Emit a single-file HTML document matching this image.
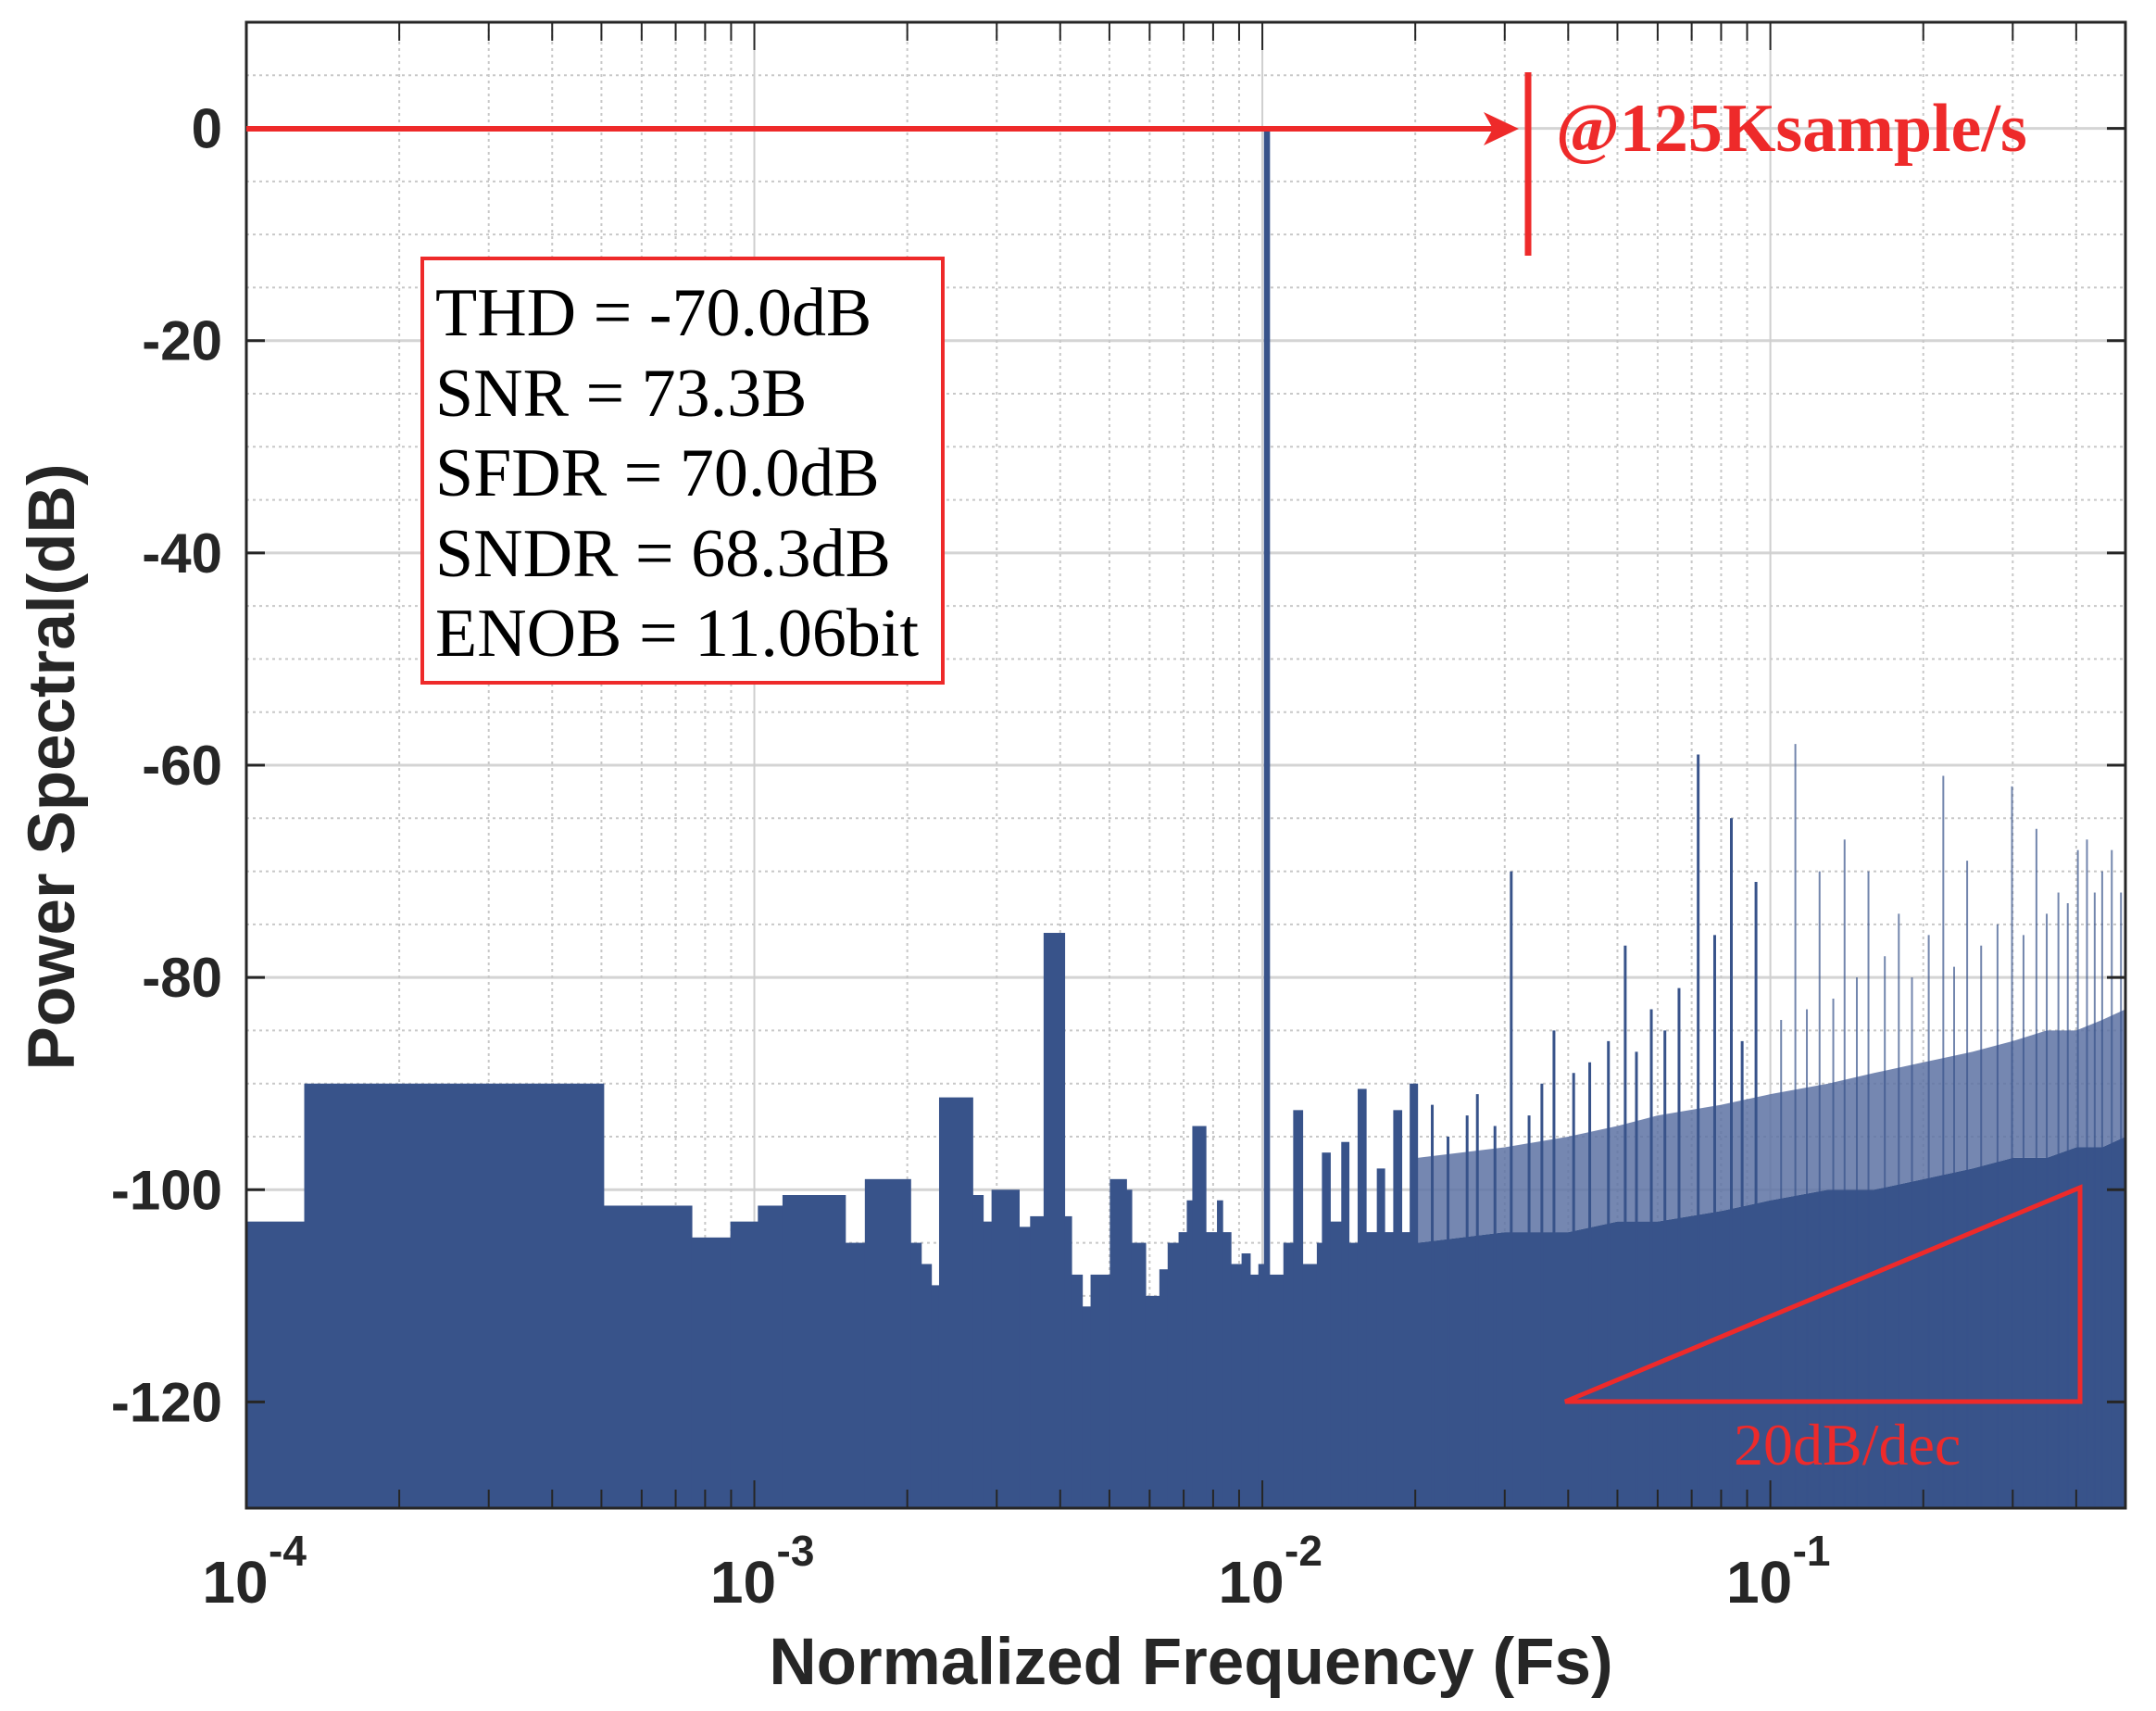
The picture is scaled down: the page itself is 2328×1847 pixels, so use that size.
<!DOCTYPE html>
<html><head><meta charset="utf-8"><style>
html,body{margin:0;padding:0;background:#fff;}
svg{display:block;}
</style></head><body>
<svg id="chart" width="2328" height="1847" viewBox="0 0 2328 1847" xmlns="http://www.w3.org/2000/svg">
<g id="grid"></g>
<g id="marks"></g>
<g id="axes"></g>
<g>
  <line x1="266" y1="139" x2="1612" y2="139" stroke="#ee2a2a" stroke-width="6"/>
  <polygon points="1640,139 1602,121 1612,139 1602,157" fill="#ee2a2a"/>
  <line x1="1650" y1="78" x2="1650" y2="276" stroke="#ee2a2a" stroke-width="7"/>
  <text x="1680" y="163" font-family="Liberation Serif, serif" font-weight="bold" font-size="74" fill="#ee2a2a">@125Ksample/s</text>
  <rect x="456" y="279" width="562" height="458" fill="#fff" stroke="#ee2a2a" stroke-width="4"/>
  <g font-family="Liberation Serif, serif" font-size="74" fill="#000">
    <text x="470" y="362">THD = -70.0dB</text>
    <text x="470" y="449">SNR = 73.3B</text>
    <text x="470" y="535">SFDR = 70.0dB</text>
    <text x="470" y="622">SNDR = 68.3dB</text>
    <text x="470" y="708">ENOB = 11.06bit</text>
  </g>
  <polygon points="1690,1513 2246,1282 2246,1513" fill="none" stroke="#ee2a2a" stroke-width="5"/>
  <text x="1872" y="1581" font-family="Liberation Serif, serif" font-size="64" fill="#ee2a2a">20dB/dec</text>
</g>
<text x="1286" y="1818" text-anchor="middle" font-family="Liberation Sans, sans-serif" font-weight="bold" font-size="71" fill="#262626">Normalized Frequency (Fs)</text>
<text transform="translate(80,828) rotate(-90)" text-anchor="middle" font-family="Liberation Sans, sans-serif" font-weight="bold" font-size="71" fill="#262626">Power Spectral(dB)</text>
</svg>
<script>
// ---- data ----
const yTicks = [0, -20, -40, -60, -80, -100, -120];
const xTickExps = [-4, -3, -2, -1];
// low-frequency stair segments: start frequency and level (dB)
const stepFreqs = [1e-4,1.30e-4,5.05e-4,7.53e-4,8.97e-4,1.016e-3,1.136e-3,1.51e-3,1.65e-3,2.03e-3,2.13e-3,2.23e-3,2.31e-3,2.69e-3,2.82e-3,2.93e-3,3.32e-3,3.49e-3,3.71e-3,4.08e-3,4.21e-3,4.42e-3,4.59e-3,5.01e-3,5.40e-3,5.53e-3,5.89e-3,6.27e-3,6.51e-3,6.84e-3,7.10e-3,7.28e-3,7.74e-3,8.14e-3,8.35e-3,8.67e-3,9.10e-3,9.46e-3,9.82e-3,1.007e-2,1.032e-2,1.10e-2,1.15e-2,1.20e-2,1.28e-2,1.31e-2,1.36e-2,1.43e-2,1.48e-2,1.54e-2,1.60e-2,1.68e-2,1.74e-2,1.81e-2,1.88e-2,1.95e-2,2.02e-2];
const stepLevels = [-103,-90,-101.5,-104.5,-103,-101.5,-100.5,-105,-99,-105,-107,-109,-91.3,-100.5,-103,-100,-103.5,-102.5,-75.8,-102.5,-108,-111,-108,-99,-100,-105,-110,-107.5,-105,-104,-101,-94,-104,-101,-104,-107,-106,-108,-107,0,-108,-105,-92.5,-107,-105,-96.5,-103,-95.5,-105,-90.5,-104,-98,-104,-92.5,-104,-90,-103];
// dense noise region envelope
const noiseFreqs = [0.0202,0.03,0.04,0.05,0.06,0.08,0.1,0.13,0.16,0.2,0.25,0.3,0.35,0.4,0.45,0.5];
const noiseFloor = [-105,-104,-104,-103,-103,-102,-101,-100,-100,-99,-98,-97,-97,-96,-96,-95];
const noiseTop = [-97,-96,-95,-94,-93,-92,-91,-90,-89,-88,-87,-86,-85,-85,-84,-83];
// harmonic / spur lines
const spurFreqs = [0.0216,0.0232,0.0253,0.0265,0.0287,0.0309,0.0335,0.0355,0.0375,0.041,0.0441,0.048,0.0518,0.0545,0.0583,0.062,0.0661,0.0721,0.0777,0.0838,0.088,0.0937,0.105,0.112,0.118,0.125,0.133,0.140,0.148,0.156,0.168,0.179,0.19,0.205,0.219,0.23,0.244,0.26,0.28,0.299,0.315,0.334,0.35,0.369,0.385,0.403,0.42,0.435,0.45,0.47,0.49];
const spurLevels = [-92,-95,-93,-91,-94,-70,-93,-90,-85,-89,-88,-86,-77,-87,-83,-85,-81,-59,-76,-65,-86,-71,-84,-58,-83,-70,-82,-67,-80,-70,-78,-74,-80,-76,-61,-79,-69,-77,-75,-62,-76,-66,-74,-72,-73,-68,-67,-72,-70,-68,-72];

// ---- axes ----
const L=266, R=2295, T=24, B=1628;
const xMinE=-4, xMaxE=Math.log10(0.5);
const yMin=-130, yMax=10;
function xs(f){return L+(Math.log10(f)-xMinE)/(xMaxE-xMinE)*(R-L);}
function ys(d){return T+(yMax-d)/(yMax-yMin)*(B-T);}
const NS='http://www.w3.org/2000/svg';
function mk(tag,attrs,parent){const e=document.createElementNS(NS,tag);for(const k in attrs)e.setAttribute(k,attrs[k]);parent.appendChild(e);return e;}
const grid=document.getElementById('grid'), marks=document.getElementById('marks'), axes=document.getElementById('axes');

// grid
for(let d=yMin+5; d<yMax; d+=5){
  const major = d%20===0;
  const g=mk('line',{x1:L,x2:R,y1:ys(d),y2:ys(d),stroke:major?'#d4d4d4':'#c8c8c8','stroke-width':major?3:2,'stroke-dasharray':major?'none':'3 4'},grid);
  
  
}
for(let e=-4;e<=-1;e++){
  for(let m=1;m<10;m++){
    const f=m*Math.pow(10,e); if(f>0.5||(e===-4&&m===1)) continue;
    const major=m===1;
    const g=mk('line',{x1:xs(f),x2:xs(f),y1:T,y2:B,stroke:major?'#cfcfcf':'#c8c8c8','stroke-width':2,'stroke-dasharray':major?'none':'3 4'},grid);
    
    
  }
}

// spectrum: noise fuzz
const fill='#38538a';
let fuzz='M'+xs(noiseFreqs[0])+','+ys(noiseTop[0]);
for(let i=1;i<noiseFreqs.length;i++) fuzz+=' L'+xs(noiseFreqs[i])+','+ys(noiseTop[i]);
for(let i=noiseFreqs.length-1;i>=0;i--) fuzz+=' L'+xs(noiseFreqs[i])+','+ys(noiseFloor[i]);
const fz=mk('path',{d:fuzz+' Z',fill:'#5d72a3','fill-opacity':0.85},marks);


// noise floor solid
let nf='M'+xs(noiseFreqs[0])+','+B;
for(let i=0;i<noiseFreqs.length;i++) nf+=' L'+xs(noiseFreqs[i])+','+ys(noiseFloor[i]);
nf+=' L'+R+','+B+' Z';
const nfp=mk('path',{d:nf,fill:fill},marks);


// stairs
for(let i=0;i<stepFreqs.length-1;i++){
  const x1=xs(stepFreqs[i]), x2=xs(stepFreqs[i+1]);
  let w=x2-x1; let x=x1;
  if(stepLevels[i]===0){ w=6; }
  const r=mk('rect',{x:x,y:ys(stepLevels[i]),width:Math.max(w,1)+0.6,height:B-ys(stepLevels[i]),fill:fill},marks);
  
  
}
// spurs
for(let i=0;i<spurFreqs.length;i++){
  const s=mk('line',{x1:xs(spurFreqs[i]),x2:xs(spurFreqs[i]),y1:ys(spurLevels[i]),y2:B,stroke:fill,'stroke-width':spurFreqs[i]<0.1?3:2,'stroke-opacity':spurFreqs[i]<0.1?1:0.7},marks);
  
  
}

// axes frame & ticks
const fr=mk('rect',{x:L,y:T,width:R-L,height:B-T,fill:'none',stroke:'#262626','stroke-width':3},axes);


yTicks.forEach(d=>{
  const y=ys(d);
  mk('line',{x1:L,x2:L+20,y1:y,y2:y,stroke:'#262626','stroke-width':3},axes);
  mk('line',{x1:R-20,x2:R,y1:y,y2:y,stroke:'#262626','stroke-width':3},axes);
  const t=mk('text',{x:240,y:y+21,'text-anchor':'end','font-family':'Liberation Sans, sans-serif','font-weight':'bold','font-size':60,fill:'#262626'},axes);
  t.textContent=String(d);
  
  
});
for(let e=-4;e<=-1;e++){
  for(let m=1;m<10;m++){
    const f=m*Math.pow(10,e); if(f>0.5) continue;
    const len=m===1?30:20;
    mk('line',{x1:xs(f),x2:xs(f),y1:B,y2:B-len,stroke:'#262626','stroke-width':2},axes);
    mk('line',{x1:xs(f),x2:xs(f),y1:T,y2:T+len,stroke:'#262626','stroke-width':2},axes);
  }
}
xTickExps.forEach(e=>{
  const x=xs(Math.pow(10,e));
  const t=mk('text',{x:x-12,y:1730,'text-anchor':'middle','font-family':'Liberation Sans, sans-serif','font-weight':'bold','font-size':64,fill:'#262626'},axes);
  t.textContent='10';
  
  
  const s=mk('text',{x:x+24,y:1690,'font-family':'Liberation Sans, sans-serif','font-weight':'bold','font-size':46,fill:'#262626'},axes);
  s.textContent=String(e);
  
  
});
</script>
</body></html>
